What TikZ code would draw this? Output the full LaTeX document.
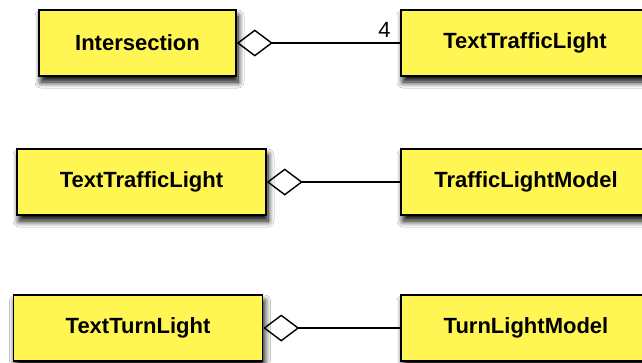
\documentclass[tikz,border=0pt]{standalone}
\usepackage{fontspec}
\setmainfont{Liberation Sans}
\usepackage{tikz}
\usetikzlibrary{arrows.meta,shadows.blur}
\definecolor{classyellow}{RGB}{255,246,84}

\begin{document}
\begin{tikzpicture}
	[x=1pt, y=-1pt,
	cls/.style ={rectangle, draw=black, line width=1.5pt, fill=classyellow, minimum height=66pt, align=center, font=\fontsize{22}{26}\selectfont\bfseries, blur shadow={shadow xshift=2pt, shadow yshift=-6pt, shadow blur radius=6pt, shadow blur steps=10, shadow opacity=100}},
	agg/.style ={draw, line width=1.2pt, {Diamond[open, length=36pt, width=27pt, line width=1.4pt]}-},
	mult/.style ={font=\fontsize{22}{26}\selectfont, inner sep=1pt}]
	\path[use as bounding box, clip] (0, 0) rectangle (642, 362);
	\fill[white] (0, 0) rectangle (642, 362);
	\draw (137.5, 43) node[cls, minimum width=197pt] (isect) {Intersection};
	\draw (525, 43) node[cls, minimum width=248pt] (textlight) {TextTrafficLight};
	\draw (141.5, 182) node[cls, minimum width=249pt] (textlight2) {TextTrafficLight};
	\draw (526, 182) node[cls, minimum width=250pt] (lightmodel) {TrafficLightModel};
	\draw (138, 328) node[cls, minimum width=249pt] (textturn) {TextTurnLight};
	\draw (526, 328) node[cls, minimum width=250pt] (turnmodel) {TurnLightModel};
	\draw[agg] (isect) -- node[mult, pos=1, above left, xshift=-8pt, yshift=4pt] {4} (textlight);
	\draw[agg] (textlight2) -- (lightmodel);
	\draw[agg] (textturn) -- (turnmodel);
\end{tikzpicture}
\end{document}
